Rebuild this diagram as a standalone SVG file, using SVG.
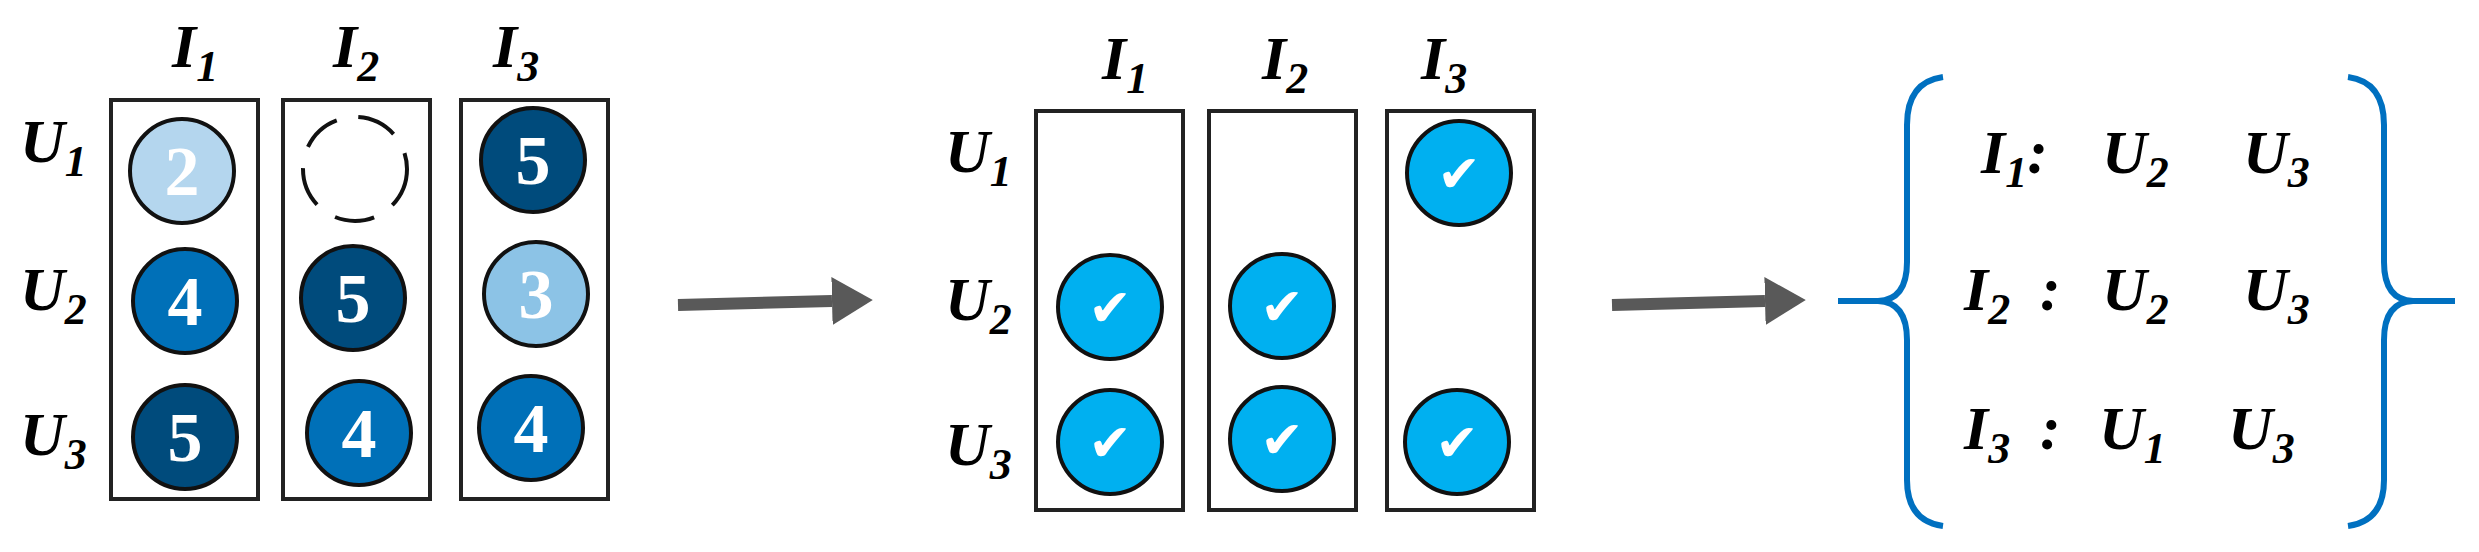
<svg xmlns="http://www.w3.org/2000/svg" width="2479" height="552" viewBox="0 0 2479 552">
<style>
.lbl{font-family:"Liberation Serif",serif;font-weight:bold;font-style:italic;font-size:62px;fill:#000}
.sub{font-size:44px}
.box{fill:#fff;stroke:#222;stroke-width:4}
.c{stroke:#111;stroke-width:4}
.num{font-family:"Liberation Serif",serif;font-weight:bold;font-size:70px;fill:#fff;text-anchor:middle}
.chk{font-family:"DejaVu Sans",sans-serif;font-size:52px;fill:#fff;text-anchor:middle}
.ck{fill:#00b0f0;stroke:#111;stroke-width:4}
.arr{stroke:#595959;stroke-width:12;fill:none}
.br{stroke:#0070c0;stroke-width:6;fill:none}
</style>
<defs><marker id="ah" markerWidth="4" markerHeight="4" refX="0" refY="2" orient="auto" markerUnits="strokeWidth"><path d="M0,0 L3.4,2 L0,4 Z" fill="#595959"/></marker></defs>
<g id="left">
<text class="lbl" x="172" y="67">I<tspan class="sub" dy="14">1</tspan></text>
<text class="lbl" x="333" y="67">I<tspan class="sub" dy="14">2</tspan></text>
<text class="lbl" x="493" y="67">I<tspan class="sub" dy="14">3</tspan></text>
<text class="lbl" x="20" y="162">U<tspan class="sub" dy="14">1</tspan></text>
<text class="lbl" x="20" y="310">U<tspan class="sub" dy="14">2</tspan></text>
<text class="lbl" x="20" y="455">U<tspan class="sub" dy="14">3</tspan></text>
<rect class="box" x="111" y="100" width="147" height="399"/>
<rect class="box" x="283" y="100" width="147" height="399"/>
<rect class="box" x="461" y="100" width="147" height="399"/>
<circle class="c" cx="182" cy="171" r="52" fill="#b4d6ee"/><text class="num" x="182" y="195">2</text>
<circle cx="355" cy="169" r="52" fill="none" stroke="#111" stroke-width="4" stroke-dasharray="40 22"/>
<circle class="c" cx="533" cy="160" r="52" fill="#004b7c"/><text class="num" x="533" y="184">5</text>
<circle class="c" cx="185" cy="301" r="52" fill="#0070b8"/><text class="num" x="185" y="325">4</text>
<circle class="c" cx="353" cy="298" r="52" fill="#004b7c"/><text class="num" x="353" y="322">5</text>
<circle class="c" cx="536" cy="294" r="52" fill="#8cc3e6"/><text class="num" x="536" y="318">3</text>
<circle class="c" cx="185" cy="437" r="52" fill="#004b7c"/><text class="num" x="185" y="461">5</text>
<circle class="c" cx="359" cy="433" r="52" fill="#0070b8"/><text class="num" x="359" y="457">4</text>
<circle class="c" cx="531" cy="428" r="52" fill="#0070b8"/><text class="num" x="531" y="452">4</text>
</g>
<g id="middle">
<text class="lbl" x="1102" y="79">I<tspan class="sub" dy="14">1</tspan></text>
<text class="lbl" x="1262" y="79">I<tspan class="sub" dy="14">2</tspan></text>
<text class="lbl" x="1421" y="79">I<tspan class="sub" dy="14">3</tspan></text>
<text class="lbl" x="945" y="172">U<tspan class="sub" dy="14">1</tspan></text>
<text class="lbl" x="945" y="320">U<tspan class="sub" dy="14">2</tspan></text>
<text class="lbl" x="945" y="465">U<tspan class="sub" dy="14">3</tspan></text>
<rect class="box" x="1036" y="111" width="147" height="399"/>
<rect class="box" x="1209" y="111" width="147" height="399"/>
<rect class="box" x="1387" y="111" width="147" height="399"/>
<circle class="ck" cx="1459" cy="173" r="52"/><text class="chk" x="1459" y="192">✔</text>
<circle class="ck" cx="1110" cy="307" r="52"/><text class="chk" x="1110" y="326">✔</text>
<circle class="ck" cx="1282" cy="306" r="52"/><text class="chk" x="1282" y="325">✔</text>
<circle class="ck" cx="1110" cy="442" r="52"/><text class="chk" x="1110" y="461">✔</text>
<circle class="ck" cx="1282" cy="439" r="52"/><text class="chk" x="1282" y="458">✔</text>
<circle class="ck" cx="1457" cy="442" r="52"/><text class="chk" x="1457" y="461">✔</text>
</g>
<g id="connectors">
<line class="arr" x1="678" y1="305" x2="832" y2="301" marker-end="url(#ah)"/>
<line class="arr" x1="1612" y1="305" x2="1765" y2="301" marker-end="url(#ah)"/>
</g>
<g id="result">
<path class="br" d="M1943,77 Q1907,82 1907,125 L1907,262 Q1907,300 1878,301 L1838,301 M1878,301 Q1907,302 1907,340 L1907,480 Q1907,521 1943,526"/>
<path class="br" d="M2348,77 Q2384,82 2384,125 L2384,262 Q2384,300 2413,301 L2455,301 M2413,301 Q2384,302 2384,340 L2384,480 Q2384,521 2348,526"/>
<text class="lbl" x="1981" y="173">I<tspan class="sub" dy="14">1</tspan><tspan dy="-14">:</tspan></text>
<text class="lbl" x="2102" y="173">U<tspan class="sub" dy="14">2</tspan></text>
<text class="lbl" x="2243" y="173">U<tspan class="sub" dy="14">3</tspan></text>
<text class="lbl" x="1964" y="310">I<tspan class="sub" dy="14">2</tspan></text>
<text class="lbl" x="2040" y="310">:</text>
<text class="lbl" x="2102" y="310">U<tspan class="sub" dy="14">2</tspan></text>
<text class="lbl" x="2243" y="310">U<tspan class="sub" dy="14">3</tspan></text>
<text class="lbl" x="1964" y="449">I<tspan class="sub" dy="14">3</tspan></text>
<text class="lbl" x="2040" y="449">:</text>
<text class="lbl" x="2099" y="449">U<tspan class="sub" dy="14">1</tspan></text>
<text class="lbl" x="2228" y="449">U<tspan class="sub" dy="14">3</tspan></text>
</g>
</svg>
